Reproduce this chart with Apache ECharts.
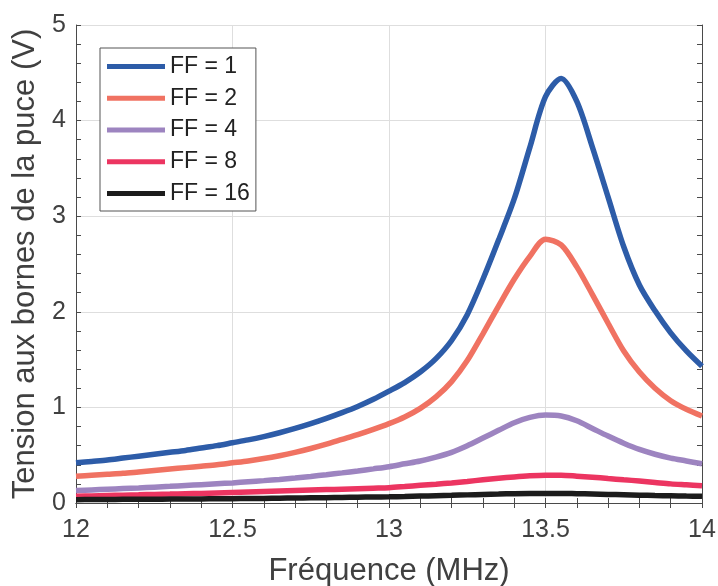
<!DOCTYPE html>
<html>
<head>
<meta charset="utf-8">
<script src="https://cdn.jsdelivr.net/npm/echarts@6/dist/echarts.min.js"></script>
<style>
html,body{margin:0;padding:0;background:#fff;}
#chart{width:718px;height:586px;}
</style>
</head>
<body>
<div id="chart"></div>
<script>
// Frequencies (MHz)
var freq = [12.00,12.05,12.10,12.15,12.20,12.25,12.30,12.35,12.40,12.45,12.50,12.55,12.60,12.65,12.70,12.75,12.80,12.85,12.90,12.95,
            13.00,13.05,13.10,13.15,13.20,13.25,13.30,13.35,13.40,13.45,13.50,13.55,13.60,13.65,13.70,13.75,13.80,13.85,13.90,13.95,14.00];
// Voltages (V)
var ff1  = [0.42,0.435,0.45,0.47,0.49,0.51,0.53,0.55,0.575,0.60,0.63,0.66,0.695,0.735,0.78,0.83,0.885,0.945,1.01,1.085,
            1.17,1.26,1.37,1.51,1.70,1.97,2.34,2.75,3.18,3.72,4.25,4.44,4.20,3.72,3.20,2.68,2.28,2.01,1.78,1.59,1.43];
var ff2  = [0.28,0.29,0.30,0.31,0.325,0.34,0.355,0.37,0.385,0.40,0.42,0.44,0.465,0.495,0.53,0.57,0.615,0.665,0.715,0.77,
            0.83,0.90,0.99,1.11,1.27,1.49,1.77,2.06,2.34,2.58,2.76,2.70,2.47,2.18,1.88,1.59,1.37,1.20,1.07,0.98,0.91];
var ff4  = [0.13,0.137,0.144,0.151,0.158,0.166,0.174,0.183,0.192,0.201,0.21,0.222,0.234,0.247,0.262,0.278,0.296,0.315,0.335,0.357,
            0.38,0.41,0.44,0.48,0.53,0.60,0.68,0.76,0.84,0.895,0.92,0.91,0.86,0.78,0.70,0.625,0.56,0.51,0.47,0.44,0.41];
var ff8  = [0.07,0.074,0.078,0.082,0.086,0.09,0.093,0.097,0.10,0.105,0.11,0.115,0.12,0.125,0.13,0.135,0.14,0.145,0.15,0.155,
            0.16,0.172,0.185,0.197,0.21,0.225,0.243,0.259,0.273,0.284,0.29,0.29,0.281,0.27,0.256,0.243,0.23,0.215,0.20,0.19,0.18];
var ff16 = [0.035,0.036,0.037,0.038,0.039,0.04,0.041,0.042,0.043,0.044,0.045,0.047,0.048,0.05,0.052,0.054,0.056,0.058,0.06,0.063,
            0.065,0.068,0.072,0.076,0.08,0.085,0.09,0.094,0.098,0.10,0.10,0.10,0.097,0.094,0.09,0.086,0.082,0.078,0.075,0.072,0.07];
var seriesNames = ['FF = 1','FF = 2','FF = 4','FF = 8','FF = 16'];
var seriesColors = ['#2d5ca8','#f07262','#9d84c0','#ec3561','#1c1c1c'];
var seriesValues = [ff1, ff2, ff4, ff8, ff16];

function pairs(vals){ return freq.map(function(f,i){ return [f, vals[i]]; }); }

var font = 'Liberation Sans, Arial, Helvetica, sans-serif';
var axisCol = '#4a4a4a';
var tickCommon = {show:true, inside:true, length:5, lineStyle:{color:axisCol, width:1}};
var minorCommon = {show:true, splitNumber:5, length:5, lineStyle:{color:axisCol, width:1}};

var chart = echarts.init(document.getElementById('chart'), null, {renderer:'canvas'});
chart.setOption({
  animation:false,
  backgroundColor:'#fff',
  grid:{left:76, right:16, top:25, bottom:83, containLabel:false, outerBoundsMode:'none'},
  legend:{
    orient:'vertical', left:100, top:48,
    data:seriesNames,
    icon:'rect', itemWidth:58, itemHeight:5, itemGap:8.75,
    padding:[7,6,6,7],
    borderColor:'#555', borderWidth:1, backgroundColor:'#fff',
    textStyle:{fontFamily:font, fontSize:23, color:'#222', lineHeight:22}
  },
  xAxis:[{
    type:'value', min:12, max:14, interval:0.5,
    name:'Fréquence (MHz)', nameLocation:'middle', nameGap:53,
    nameTextStyle:{fontFamily:font, fontSize:31, color:'#404040'},
    axisLine:{show:true, lineStyle:{color:axisCol, width:1}},
    axisTick:tickCommon, minorTick:minorCommon,
    axisLabel:{fontFamily:font, fontSize:25, color:'#404040', margin:15},
    splitLine:{show:true, lineStyle:{color:'#dedede', width:1}}
  },{
    type:'value', min:12, max:14, interval:0.5, position:'top',
    axisLine:{show:true, lineStyle:{color:axisCol, width:1}},
    axisTick:tickCommon, minorTick:minorCommon,
    axisLabel:{show:false}, splitLine:{show:false}
  }],
  yAxis:[{
    type:'value', min:0, max:5, interval:1,
    name:'Tension aux bornes de la puce (V)', nameLocation:'middle', nameGap:21,
    nameTextStyle:{fontFamily:font, fontSize:31, color:'#404040'},
    axisLine:{show:true, lineStyle:{color:axisCol, width:1}},
    axisTick:tickCommon, minorTick:minorCommon,
    axisLabel:{fontFamily:font, fontSize:25, color:'#404040', margin:10},
    splitLine:{show:true, lineStyle:{color:'#dedede', width:1}}
  },{
    type:'value', min:0, max:5, interval:1, position:'right',
    axisLine:{show:true, lineStyle:{color:axisCol, width:1}},
    axisTick:tickCommon, minorTick:minorCommon,
    axisLabel:{show:false}, splitLine:{show:false}
  }],
  series: seriesNames.map(function(n,i){
    return {
      name:n, type:'line', xAxisIndex:0, yAxisIndex:0,
      data:pairs(seriesValues[i]), smooth:0.3, showSymbol:false, symbol:'none',
      lineStyle:{color:seriesColors[i], width:5.5}, itemStyle:{color:seriesColors[i]},
      clip:true
    };
  })
});
</script>
</body>
</html>
